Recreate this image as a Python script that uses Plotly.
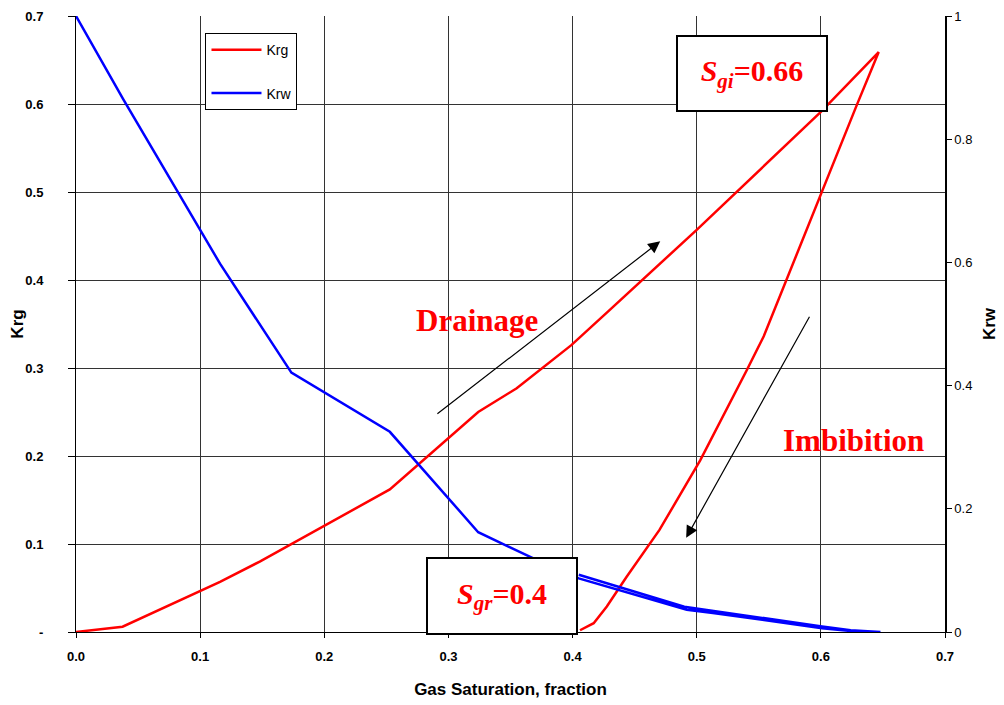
import plotly.graph_objects as go

# Gas saturation (drainage up to Sgi, then imbibition back to Sgr)
sg_krg = [0.0, 0.0375, 0.116, 0.148, 0.2528, 0.324, 0.355, 0.399, 0.43, 0.5, 0.6, 0.6466,
          0.629, 0.601, 0.566, 0.554, 0.5405, 0.5028, 0.470, 0.4437, 0.4276, 0.417, 0.406]
krg = [0.0, 0.006, 0.057, 0.080, 0.162, 0.250, 0.277, 0.326, 0.366, 0.457, 0.591, 0.659,
       0.599, 0.500, 0.377, 0.336, 0.298, 0.195, 0.116, 0.063, 0.029, 0.010, 0.002]

sg_krw = [0.0, 0.038, 0.116, 0.1735, 0.2528, 0.324, 0.371, 0.405, 0.492, 0.513, 0.601, 0.624, 0.648,
          0.624, 0.601, 0.513, 0.490, 0.405]
krw = [1.0, 0.865, 0.598, 0.421, 0.325, 0.162, 0.117, 0.087, 0.036, 0.031, 0.006, 0.0016, 0.0,
       0.003, 0.009, 0.035, 0.041, 0.093]

x_ticks = [0, 0.1, 0.2, 0.3, 0.4, 0.5, 0.6, 0.7]
x_ticktext = ["0.0", "0.1", "0.2", "0.3", "0.4", "0.5", "0.6", "0.7"]
krg_ticks = [0, 0.1, 0.2, 0.3, 0.4, 0.5, 0.6, 0.7]
krg_ticktext = ["-", "0.1", "0.2", "0.3", "0.4", "0.5", "0.6", "0.7"]
krw_ticks = [0, 0.2, 0.4, 0.6, 0.8, 1.0]
krw_ticktext = ["0", "0.2", "0.4", "0.6", "0.8", "1"]

fig = go.Figure()
fig.add_trace(go.Scatter(x=sg_krg, y=krg, mode="lines", name="Krg",
                         line=dict(color="#ff0000", width=2.5), legendgroup="a", yaxis="y"))
fig.add_trace(go.Scatter(x=sg_krw, y=krw, mode="lines", name="Krw",
                         line=dict(color="#0000ff", width=2.5), legendgroup="b", yaxis="y2"))

sans = "Liberation Sans, Arial"
serif = "Liberation Serif, Times New Roman, serif"

# page body has an 8px margin, so figure is sized/offset to compensate
fig.update_layout(
    width=996, height=697,
    margin=dict(l=68, r=59, t=8, b=73),
    plot_bgcolor="white", paper_bgcolor="white",
    showlegend=True,
    legend=dict(x=0.149, y=0.972, xanchor="left", yanchor="top",
                bordercolor="black", borderwidth=1, bgcolor="white",
                font=dict(family=sans, size=14, color="black"),
                tracegroupgap=22, traceorder="grouped", itemwidth=50),
    xaxis=dict(range=[0, 0.7], tickvals=x_ticks, ticktext=x_ticktext,
               showgrid=True, gridcolor="#333333", gridwidth=1,
               showline=True, linecolor="black", linewidth=1,
               ticks="outside", ticklen=5, tickcolor="black", ticklabelstandoff=7,
               tickfont=dict(family=sans, size=13, color="black", weight="bold"),
               zeroline=False, automargin=False,
               title=dict(text="<b>Gas Saturation, fraction</b>", standoff=20,
                          font=dict(family=sans, size=17, color="black"))),
    yaxis=dict(range=[0, 0.7], tickvals=krg_ticks, ticktext=krg_ticktext,
               showgrid=True, gridcolor="#333333", gridwidth=1,
               showline=True, linecolor="black", linewidth=1,
               ticks="outside", ticklen=7, tickcolor="black", ticklabelstandoff=22,
               tickfont=dict(family=sans, size=13, color="black", weight="bold"),
               zeroline=False, automargin=False,
               title=dict(text="<b>Krg</b>", standoff=0,
                          font=dict(family=sans, size=17, color="black"))),
    yaxis2=dict(range=[0, 1], tickvals=krw_ticks, ticktext=krw_ticktext,
                overlaying="y", side="right", showgrid=False,
                showline=True, linecolor="black", linewidth=1.5,
                ticks="outside", ticklen=5, tickcolor="black",
                tickfont=dict(family=sans, size=13, color="black"),
                zeroline=False, automargin=False,
                title=dict(text="<b>Krw</b>", standoff=12,
                           font=dict(family=sans, size=17, color="black"))),
)

annotations = [
    dict(x=0.5444, y=0.635, xref="x", yref="y", showarrow=False,
         text="<b><i>S</i><sub><i>gi</i></sub>=0.66</b>",
         font=dict(family=serif, size=30, color="#ff0000"),
         bgcolor="white", bordercolor="black", borderwidth=2, width=146, height=71),
    dict(x=0.343, y=0.041, xref="x", yref="y", showarrow=False,
         text="<b><i>S</i><sub><i>gr</i></sub>=0.4</b>",
         font=dict(family=serif, size=30, color="#ff0000"),
         bgcolor="white", bordercolor="black", borderwidth=2, width=146, height=72),
    dict(x=0.323, y=0.3545, xref="x", yref="y", showarrow=False,
         text="<b>Drainage</b>", font=dict(family=serif, size=31, color="#ff0000")),
    dict(x=0.626, y=0.218, xref="x", yref="y", showarrow=False,
         text="<b>Imbibition</b>", font=dict(family=serif, size=31, color="#ff0000")),
    dict(x=0.4706, y=0.444, ax=0.2899, ay=0.2466, xref="x", yref="y", axref="x", ayref="y",
         showarrow=True, arrowhead=2, arrowsize=2, arrowwidth=1.2, arrowcolor="black", text=""),
    dict(x=0.4915, y=0.107, ax=0.5915, ay=0.360, xref="x", yref="y", axref="x", ayref="y",
         showarrow=True, arrowhead=2, arrowsize=2, arrowwidth=1.2, arrowcolor="black", text=""),
]
fig.update_layout(annotations=annotations)

fig.write_html("out.html")
